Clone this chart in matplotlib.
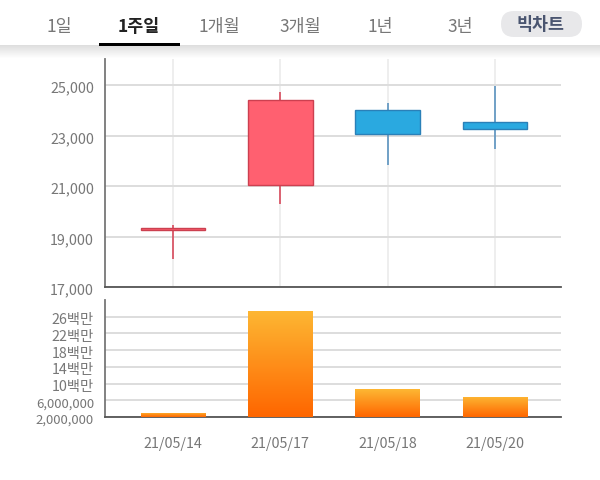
import numpy as np
import matplotlib
matplotlib.use('Agg')
import matplotlib.pyplot as plt
from matplotlib.colors import LinearSegmentedColormap
from matplotlib.patches import FancyBboxPatch, Rectangle
from matplotlib.transforms import ScaledTranslation

plt.rcParams['font.family'] = ['Noto Sans CJK KR', 'DejaVu Sans']

dates = ['21/05/14', '21/05/17', '21/05/18', '21/05/20']
body_low = [19250, 21050, 23050, 23250]
body_high = [19320, 24400, 24000, 23550]
wick_low = [18090, 20270, 21850, 22450]
wick_high = [19470, 24730, 24300, 24950]
rising = [True, True, False, False]
volume = [3000000, 27400000, 8700000, 6800000]

price_ticks = [17000, 19000, 21000, 23000, 25000]
price_labels = ['17,000', '19,000', '21,000', '23,000', '25,000']
vol_ticks = [2000000, 6000000, 10000000, 14000000, 18000000, 22000000, 26000000]
vol_labels = ['2,000,000', '6,000,000', '10백만', '14백만', '18백만', '22백만', '26백만']

tabs = ['1일', '1주일', '1개월', '3개월', '1년', '3년']
tab_x = [59, 139, 219, 300, 380, 460]

W, H = 600, 481
GREY = '#777777'


def px_axes(fig, left, top, right, bottom):
    return fig.add_axes([left / W, 1 - bottom / H, (right - left) / W, (bottom - top) / H])


def style_axes(ax):
    ax.set_xlim(-0.634, 3.615)
    ax.spines['top'].set_visible(False)
    ax.spines['right'].set_visible(False)
    ax.spines['left'].set_color('#777777')
    ax.spines['left'].set_linewidth(1.3)
    ax.spines['bottom'].set_color('#555555')
    ax.spines['bottom'].set_linewidth(1.3)
    ax.set_axisbelow(True)
    ax.grid(axis='y', color='#dddddd', linewidth=1.4)
    ax.tick_params(axis='both', length=0, labelcolor=GREY, labelsize=10.3)


def nudge_labels(ax, fig):
    # les labels sont un peu plus bas que la grille
    for lbl in ax.get_yticklabels():
        lbl.set_transform(lbl.get_transform() + ScaledTranslation(0, -1 / 100, fig.dpi_scale_trans))


fig = plt.figure(figsize=(W / 100, H / 100), dpi=100)

# bandeau du haut
bg = fig.add_axes([0, 0, 1, 1])
bg.set_xlim(0, W)
bg.set_ylim(H, 0)
bg.axis('off')
shadow = np.linspace(0.87, 1, 14).reshape(-1, 1)
bg.imshow(shadow, extent=(0, W, 60, 46), cmap='gray', vmin=0, vmax=1, aspect='auto')
bg.set_xlim(0, W)
bg.set_ylim(H, 0)
for i in range(len(tabs)):
    active = tabs[i] == '1주일'
    bg.text(tab_x[i], 27, tabs[i], ha='center', va='center', fontsize=12.5,
            color='#222222' if active else GREY,
            fontweight='bold' if active else 'normal')
bg.add_patch(Rectangle((99, 44), 81, 2.5, color='black', lw=0))
bg.add_patch(FancyBboxPatch((501, 12), 81, 26, boxstyle='round,pad=0,rounding_size=13',
                            fc='#e8e8ea', ec='none'))
bg.text(541, 25, '빅차트', ha='center', va='center', fontsize=12.5,
        color='#4a5570', fontweight='bold')

# chandeliers
ax = px_axes(fig, 105, 60, 561, 288)
ax.patch.set_alpha(0)
style_axes(ax)
ax.set_ylim(17000, 26030)
ax.grid(axis='x', color='#eeeeee', linewidth=1.4)
ax.set_xticks(range(len(dates)))
ax.set_xticklabels([])
ax.set_yticks(price_ticks)
ax.set_yticklabels(price_labels)
ax.tick_params(axis='y', pad=8)
nudge_labels(ax, fig)
for i in range(len(dates)):
    fill = '#ff6070' if rising[i] else '#2aa9e0'
    edge = '#cc4050' if rising[i] else '#2a80b8'
    wick = '#d84a5c' if rising[i] else '#5b93c0'
    ax.vlines(i, wick_low[i], wick_high[i], color=wick, linewidth=1.2, zorder=3)
    ax.bar(i, body_high[i] - body_low[i], width=0.6, bottom=body_low[i],
           color=fill, edgecolor=edge, linewidth=1, zorder=4)

# volume
ax2 = px_axes(fig, 105, 301, 561, 418)
ax2.patch.set_alpha(0)
style_axes(ax2)
ax2.set_ylim(2000000, 30000000)
ax2.set_xticks(range(len(dates)))
ax2.set_xticklabels(dates)
ax2.set_yticks(vol_ticks)
ax2.set_yticklabels(vol_labels)
ax2.tick_params(axis='y', pad=8)
ax2.tick_params(axis='x', pad=13.5)
nudge_labels(ax2, fig)
for lbl in ax2.get_yticklabels():
    if ',' in lbl.get_text():
        lbl.set_fontsize(9.5)
orange = LinearSegmentedColormap.from_list('vol', ['#fdb733', '#ff6600'])
grad = np.linspace(0, 1, 100).reshape(-1, 1)
bars = ax2.bar(range(len(dates)), volume, width=0.6, color='none', zorder=3)
for b in bars:
    im = ax2.imshow(grad, extent=(b.get_x(), b.get_x() + b.get_width(), 2000000, b.get_height()),
                    cmap=orange, aspect='auto', zorder=3)
    im.set_clip_path(b)
ax2.set_xlim(-0.634, 3.615)
ax2.set_ylim(2000000, 30000000)

fig.savefig('out.png', dpi=100)
